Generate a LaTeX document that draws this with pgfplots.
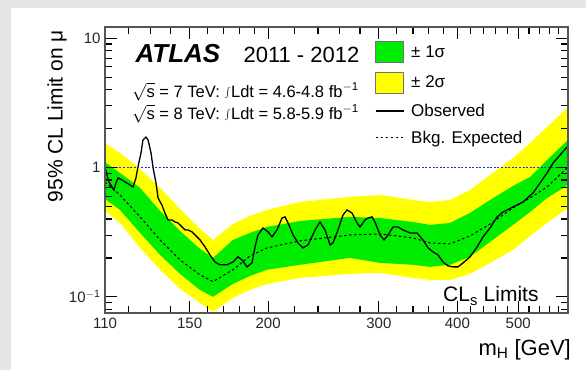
\documentclass[border=0pt]{standalone}
\usepackage{pgfplots}
\pgfplotsset{compat=1.18}
\usepackage{fontspec}
\setmainfont{Liberation Sans}
\newcommand\fs[1]{\fontsize{#1}{#1}\selectfont}
\definecolor{bandgreen}{RGB}{0,236,0}
\definecolor{bandyellow}{RGB}{255,255,0}
\definecolor{bggray}{RGB}{230,230,230}
\definecolor{framegray}{RGB}{85,85,85}
\definecolor{lineblue}{RGB}{40,40,225}
\begin{document}
\begin{tikzpicture}
\fill[bggray] (-105pt,-57pt) rectangle (481pt,313pt);
\fill[white] (-94pt,-57pt) rectangle (481pt,305pt);
\path[use as bounding box] (-105pt,-57pt) rectangle (481pt,313pt);
\begin{axis}[
  at={(0pt,0pt)}, anchor=south west,
  scale only axis, width=463pt, height=286pt,
  xmode=log, ymode=log,
  xmin=110, xmax=600, ymin=0.075, ymax=12.2,
  xtick={110,150,200,300,400,500},
  xticklabels={110,150,200,300,400,500},
  minor xtick={120,130,140,160,170,180,190,220,240,260,280,320,340,360,380,420,440,460,480,520,540,560,580},
  ytick={0.1,1,10},
  yticklabels={10\textsuperscript{$-$1},1,10},
  minor ytick={0.08,0.09,0.2,0.3,0.4,0.5,0.6,0.7,0.8,0.9,2,3,4,5,6,7,8,9},
  xtick pos=both, ytick pos=both,
  xticklabel pos=left, yticklabel pos=left,
  /pgf/number format/assume math mode=true,
  tick align=inside,
  axis on top,
  major tick length=12pt, minor tick length=7pt,
  axis line style={framegray, line width=1.2pt},
  every tick/.append style={black, line width=1.2pt},
  every major tick/.append style={black, line width=1.2pt},
  every minor tick/.append style={black, line width=1.2pt},
  tick label style={font=\fs{15}, text=black!85},
  xticklabel style={yshift=-1pt},
  yticklabel style={xshift=-1pt},
  legend style={at={(axis description cs:0.583,0.951)}, anchor=north west,
    draw=none, fill=none, inner sep=0pt, outer sep=0pt, row sep=9pt,
    font=\fs{17}, cells={anchor=west},
    /tikz/every odd column/.append style={column sep=5pt}},
  clip mode=individual,
]
% +-2 sigma band
\addplot[fill=bandyellow, draw=none, forget plot] coordinates {
(110,1.546) (116.2,1.294) (125.1,0.974) (134.6,0.695) (144.8,0.478) (155.8,0.335) (163.4,0.2755) (175.8,0.366) (187.1,0.422) (199.2,0.470) (224.8,0.5415) (269.9,0.592) (301.3,0.613) (340.0,0.561) (361.9,0.5415) (389.4,0.561) (419.0,0.670) (450.9,0.875) (490.5,1.184) (522.1,1.546) (555.6,2.055) (600,2.932)
(600,0.487) (555.6,0.373) (522.1,0.296) (490.5,0.231) (450.9,0.183) (419.0,0.1505) (389.4,0.135) (361.9,0.135) (340.0,0.140) (301.3,0.153) (269.9,0.1505) (224.8,0.140) (199.2,0.126) (187.1,0.113) (175.8,0.0982) (163.4,0.0766) (155.8,0.0899) (144.8,0.1153) (134.6,0.162) (125.1,0.239) (116.2,0.373) (110,0.461)
} -- cycle;
% +-1 sigma band
\addplot[fill=bandgreen, draw=none, forget plot] coordinates {
(110,1.103) (116.2,0.907) (125.1,0.695) (134.6,0.461) (144.8,0.323) (155.8,0.235) (163.4,0.200) (175.8,0.2755) (187.1,0.312) (199.2,0.347) (224.8,0.386) (269.9,0.415) (301.3,0.407) (340.0,0.379) (361.9,0.360) (389.4,0.373) (419.0,0.445) (450.9,0.561) (490.5,0.720) (522.1,0.845) (555.6,1.143) (600,1.631)
(600,0.733) (555.6,0.581) (522.1,0.453) (490.5,0.360) (450.9,0.266) (419.0,0.204) (389.4,0.177) (361.9,0.1705) (340.0,0.177) (301.3,0.183) (269.9,0.200) (224.8,0.177) (199.2,0.162) (187.1,0.145) (175.8,0.126) (163.4,0.100) (155.8,0.113) (144.8,0.1505) (134.6,0.211) (125.1,0.312) (116.2,0.470) (110,0.571)
} -- cycle;
% expected
\addplot[black, line width=1pt, dash pattern=on 2.5pt off 2.5pt, forget plot] coordinates {
(110,0.773) (116.2,0.613) (125.1,0.415) (134.6,0.2755) (144.8,0.193) (155.8,0.148) (163.4,0.131) (175.8,0.162) (187.1,0.207) (199.2,0.239) (224.8,0.271) (269.9,0.301) (301.3,0.3065) (340.0,0.2855) (361.9,0.2612) (389.4,0.2566) (419.0,0.296) (450.9,0.366) (490.5,0.487) (522.1,0.581) (555.6,0.707) (600,1.009)
};
% observed
\addplot[black, line width=1.3pt, forget plot] coordinates {
(110,1.009) (110.8,0.875) (111.6,0.773) (112.9,0.707) (113.7,0.670) (114.5,0.759) (115.4,0.830) (117.1,0.801) (118.4,0.773) (120.6,0.733) (121.9,0.707) (123.2,0.830) (124.1,1.009) (125.5,1.294) (126.4,1.631) (127.8,1.720) (128.8,1.631) (130.2,1.294) (131.2,0.991) (132.6,0.759) (133.6,0.581) (135.5,0.513) (137.0,0.445) (138.6,0.393) (140.6,0.393) (142.2,0.379) (143.7,0.373) (145.9,0.347) (147.5,0.329) (149.1,0.329) (151.3,0.318) (153.0,0.301) (155.8,0.2755) (158.7,0.243) (161.6,0.211) (164.6,0.186) (167.6,0.177) (172.0,0.177) (175.8,0.186) (179.1,0.204) (181.7,0.193) (185.1,0.1705) (188.5,0.183) (190.6,0.243) (192.7,0.301) (196.3,0.341) (199.9,0.318) (202.8,0.291) (206.6,0.329) (210.4,0.407) (212.7,0.415) (215.1,0.373) (219.1,0.301) (223.1,0.261) (227.2,0.239) (231.4,0.252) (237.5,0.329) (241.8,0.379) (246.3,0.329) (250.9,0.252) (253.6,0.261) (258.3,0.329) (263.1,0.4297) (267.0,0.4697) (271.9,0.445) (277.0,0.373) (280.0,0.347) (285.2,0.393) (288.4,0.407) (292.6,0.415) (295.8,0.379) (301.3,0.301) (305.8,0.2755) (310.3,0.301) (316.0,0.347) (321.9,0.347) (327.8,0.329) (336.3,0.312) (345.1,0.312) (352.7,0.2755) (359.3,0.239) (365.9,0.2226) (372.7,0.211) (379.5,0.186) (386.6,0.1735) (393.7,0.1705) (401.0,0.1705) (408.4,0.183) (419.0,0.2036) (429.9,0.243) (439.5,0.291) (450.9,0.341) (462.6,0.415) (472.9,0.453) (490.5,0.4954) (508.8,0.5415) (527.8,0.6355) (541.5,0.759) (555.6,0.9068) (568.0,1.083) (582.7,1.249) (597.9,1.440)
};
% mu = 1 line
\addplot[lineblue, line width=0.9pt, dash pattern=on 2pt off 1.6pt, forget plot] coordinates {(110,1) (600,1)};
% legend
\addlegendimage{legend image code/.code={\filldraw[fill=bandgreen, draw=black!55, line width=0.5pt] (0pt,-10pt) rectangle (28pt,11pt);}}
\addlegendentry{± 1σ}
\addlegendimage{legend image code/.code={\filldraw[fill=bandyellow, draw=black!55, line width=0.5pt] (0pt,-10pt) rectangle (28pt,11pt);}}
\addlegendentry{± 2σ}
\addlegendimage{legend image code/.code={\draw[black, line width=1.3pt] (0pt,0pt) -- (28pt,0pt);}}
\addlegendentry{Observed}
\addlegendimage{legend image code/.code={\draw[black, line width=1pt, dash pattern=on 2.5pt off 2.5pt] (0pt,0pt) -- (28pt,0pt);}}
\addlegendentry{Bkg. Expected}
% texts
\node[anchor=base west, font=\fs{26}\bfseries\itshape] at (axis description cs:0.0583,0.8776) {ATLAS};
\node[anchor=base west, font=\fs{22}] at (axis description cs:0.2916,0.8776) {2011 - 2012};
\node[anchor=base west, font=\fs{16.5}, inner sep=0pt] at (axis description cs:0.0583,0.7552) {$\sqrt{\mbox{s}}$ = 7 TeV: $\int$Ldt = 4.6-4.8 fb\textsuperscript{$-$1}};
\node[anchor=base west, font=\fs{16.5}, inner sep=0pt] at (axis description cs:0.0583,0.6783) {$\sqrt{\mbox{s}}$ = 8 TeV: $\int$Ldt = 5.8-5.9 fb\textsuperscript{$-$1}};
\node[anchor=base west, font=\fs{21}, inner sep=0pt] at (axis description cs:0.730,0.0385) {CL\textsubscript{s} Limits};
\node[anchor=base east, font=\fs{22}, inner sep=0pt] at (axis description cs:1.0065,-0.1469) {m\textsubscript{H} [GeV]};
\node[anchor=east, rotate=90, font=\fs{21}, inner sep=0pt] at (axis description cs:-0.1037,0.9895) {95\% CL Limit on μ};
\end{axis}
\end{tikzpicture}
\end{document}
